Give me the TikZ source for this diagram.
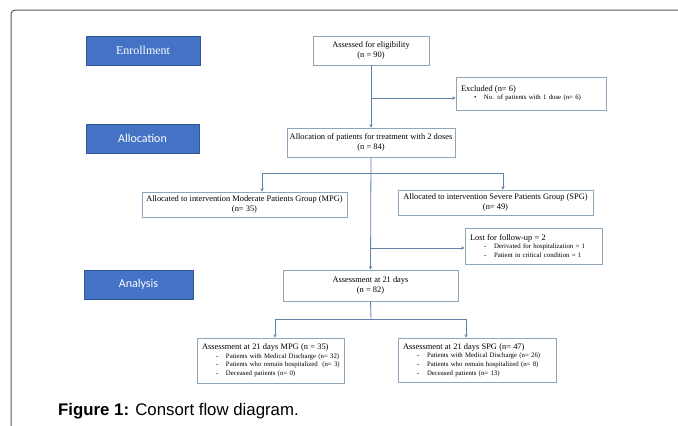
\documentclass[tikz,border=0pt]{standalone}
\usepackage{fontspec}
\setmainfont{Liberation Serif}
\newfontfamily\captionfont{Liberation Sans}
\newfontfamily\stagefont{Carlito}
\usetikzlibrary{arrows.meta}
\definecolor{stageBlue}{HTML}{4472C4}
\definecolor{stageLine}{HTML}{2F5597}
\definecolor{boxLine}{HTML}{8FA5B8}
\definecolor{linkBlue}{HTML}{5F82A6}
\definecolor{frameGray}{HTML}{555555}
\tikzset{
    stagebox/.style={draw=stageLine,fill=stageBlue,text=white,inner sep=0pt,
        minimum height=29pt,font=\stagefont\fontsize{12}{14}\selectfont},
    flowbox/.style={draw=boxLine,line width=0.6pt,fill=white,inner sep=0pt,
        align=center,font=\fontsize{8.4}{10.5}\selectfont},
    notebox/.style={draw=boxLine,line width=0.6pt,fill=white,inner xsep=5pt,
        inner ysep=0pt,align=left,font=\fontsize{6.8}{8.6}\selectfont},
    arrow/.style={-{Stealth[length=3.5pt,width=3.2pt]},draw=linkBlue,line width=0.8pt},
    link/.style={draw=linkBlue,line width=0.8pt},
    frameline/.style={draw=frameGray,line width=1pt,rounded corners=4pt}
}
\newcommand{\titleline}[1]{\mbox{\fontsize{8.4}{8.6}\selectfont #1}}
\newcommand{\dashitem}[1]{\mbox{\hspace*{14pt}\makebox[10pt][l]{-}#1}}
\newcommand{\dotitem}[1]{\mbox{\hspace*{13pt}\makebox[10pt][l]{\textbullet}#1}}

\begin{document}
\begin{tikzpicture}[x=1pt,y=-1pt]
    \useasboundingbox (0,0) rectangle (678,426);
    \draw[frameline] (678,10) -- (11,10) -- (11,426);

    % stage labels
    \node[stagebox,minimum width=114pt,font=\fontsize{12}{14}\selectfont] (enrol) at (143,50.5) {Enrollment};
    \node[stagebox,minimum width=113pt] (allocLabel) at (142.5,138.5) {Allocation};
    \node[stagebox,minimum width=109pt] (analysis) at (138.5,284.5) {Analysis};

    % flow boxes
    \node[flowbox,minimum width=116pt,minimum height=29pt] (elig) at (371,50.5)
        {Assessed for eligibility\\(n = 90)};
    \node[notebox,minimum width=150pt,minimum height=33pt,text width=140pt] (excl) at (531,93.5)
        {\titleline{Excluded (n= 6)}\\ \dotitem{No. of patients with 1 dose (n= 6)}};
    \node[flowbox,minimum width=168pt,minimum height=29pt] (alloc) at (371,142.5)
        {Allocation of patients for treatment with 2 doses\\(n = 84)};
    \node[flowbox,minimum width=205pt,minimum height=25pt] (mpg) at (244.5,204.5)
        {Allocated to intervention Moderate Patients Group (MPG)\\(n= 35)};
    \node[flowbox,minimum width=195pt,minimum height=25pt] (spg) at (495.5,202.5)
        {Allocated to intervention Severe Patients Group (SPG)\\(n= 49)};
    \node[notebox,minimum width=137pt,minimum height=36pt,text width=127pt] (lost) at (533.5,246)
        {\titleline{Lost for follow-up = 2}\\ \dashitem{Derivated for hospitalization = 1}\\ \dashitem{Patient in critical condition = 1}};
    \node[flowbox,minimum width=175pt,minimum height=31pt] (asm) at (370.5,285.5)
        {Assessment at 21 days\\(n = 82)};
    \node[notebox,minimum width=147pt,minimum height=45pt,text width=137pt] (asmMpg) at (270.5,360.5)
        {\titleline{Assessment at 21 days MPG (n = 35)}\\ \dashitem{Patients with Medical Discharge (n= 32)}\\
         \dashitem{Patients who remain hospitalized\ \ (n= 3)}\\ \dashitem{Deceased patients (n= 0)}};
    \node[notebox,minimum width=158pt,minimum height=44pt,text width=148pt] (asmSpg) at (477,360)
        {\titleline{Assessment at 21 days SPG (n= 47)}\\ \dashitem{Patients with Medical Discharge (n= 26)}\\
         \dashitem{Patients who remain hospitalized (n= 8)}\\ \dashitem{Deceased patients (n= 13)}};

    % junctions
    \coordinate (exclJoin) at (371,98);
    \coordinate (lostJoin) at (371,248);
    \coordinate (groupLeft) at (262,173);
    \coordinate (groupRight) at (503,173);
    \coordinate (asmJoin) at (371,319);
    \coordinate (asmLeft) at (275,319);
    \coordinate (asmRight) at (466,319);

    % connectors
    \draw[arrow] (elig.south) -- (alloc.north);
    \draw[arrow] (exclJoin) -- (exclJoin -| excl.west);
    \draw[arrow] (alloc.south) -- (asm.north);
    \draw[link] (groupLeft) -- (groupRight);
    \draw[arrow] (groupLeft) -- (groupLeft |- mpg.north);
    \draw[arrow] (groupRight) -- (groupRight |- spg.north);
    \draw[arrow] (lostJoin) -- (lostJoin -| lost.west);
    \draw[link] (asm.south) -- (asmJoin);
    \draw[link] (asmLeft) -- (asmRight);
    \draw[arrow] (asmLeft) -- (asmLeft |- asmMpg.north);
    \draw[arrow] (asmRight) -- (asmRight |- asmSpg.north);

    \node[font=\captionfont\fontsize{16.8}{18}\selectfont,anchor=west,inner sep=0pt] (caption) at (58,411)
        {\textbf{Figure 1:} Consort flow diagram.};
\end{tikzpicture}
\end{document}
